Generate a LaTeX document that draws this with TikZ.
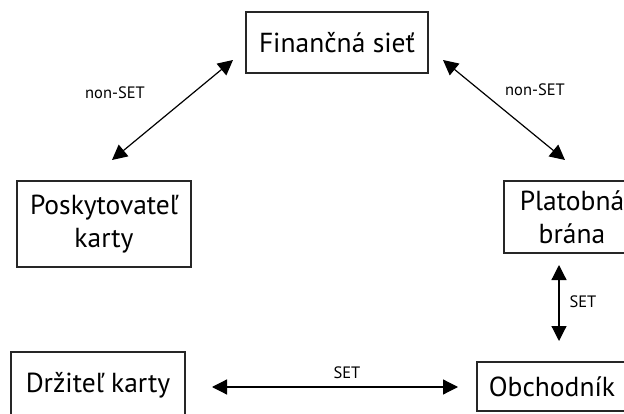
\documentclass[tikz,border=0pt]{standalone}
\usepackage{fontspec}
\setmainfont{PT Sans}
\usetikzlibrary{arrows.meta}
\begin{document}
\begin{tikzpicture}[x=1pt,y=-1pt,
  box/.style={draw=black!85,line width=1.1pt,inner sep=0pt,align=center,
    font=\fontsize{27.5}{33}\selectfont},
  lbl/.style={font=\fontsize{16.5}{18}\selectfont,inner sep=0pt},
  link/.style={line width=1.2pt,{Triangle[length=15pt,width=15pt]}-{Triangle[length=15pt,width=15pt]}}]
\useasboundingbox (0,0) rectangle (624,414);
\clip (0,0) rectangle (624,414);
\node[box,minimum width=182pt,minimum height=61pt] (fin) at (337,42.5) {Finančná sieť};
\node[box,minimum width=174pt,minimum height=86pt] (posk) at (104,224) {Poskytovateľ\\karty};
\node[box,minimum width=136pt,minimum height=72pt] (plat) at (572,217) {Platobná\\brána};
\node[box,minimum width=174pt,minimum height=66pt] (drz) at (98,385) {Držiteľ karty};
\node[box,minimum width=150pt,minimum height=49pt] (obch) at (552,386.5) {Obchodník};
\coordinate (a1s) at (233,60);
\coordinate (a1e) at (112,160);
\coordinate (a2s) at (443,60);
\coordinate (a2e) at (565,160);
\coordinate (a3s) at (559,265);
\coordinate (a3e) at (559,341);
\coordinate (a4s) at (212,387);
\coordinate (a4e) at (458,387);
\draw[link] (a1s) -- (a1e);
\draw[link] (a2s) -- (a2e);
\draw[link] (a3s) -- (a3e);
\draw[link] (a4s) -- (a4e);
\node[lbl] (l1) at (115,93) {non-SET};
\node[lbl] (l2) at (535,90) {non-SET};
\node[lbl] (l3) at (583,302) {SET};
\node[lbl] (l4) at (347,373) {SET};
\end{tikzpicture}
\end{document}
